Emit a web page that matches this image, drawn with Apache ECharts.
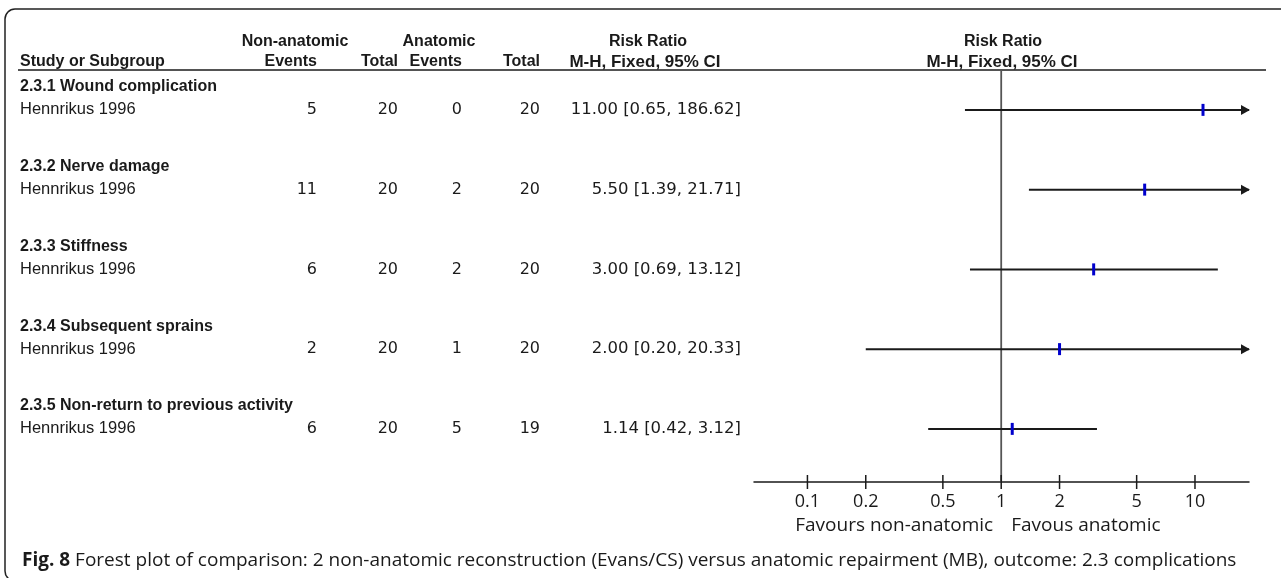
<!DOCTYPE html>
<html><head><meta charset="utf-8">
<script src="https://cdn.jsdelivr.net/npm/echarts@6/dist/echarts.min.js"></script>
<style>html,body{margin:0;padding:0;background:#fff}#c{width:1281px;height:578px}</style>
</head><body><div id="c"></div>
<script>
const subgroups = ['2.3.1 Wound complication', '2.3.2 Nerve damage', '2.3.3 Stiffness', '2.3.4 Subsequent sprains', '2.3.5 Non-return to previous activity'];
const studies = ['Hennrikus 1996', 'Hennrikus 1996', 'Hennrikus 1996', 'Hennrikus 1996', 'Hennrikus 1996'];
const eventsNon = [5, 11, 6, 2, 6];
const totalNon = [20, 20, 20, 20, 20];
const eventsAna = [0, 2, 2, 1, 5];
const totalAna = [20, 20, 20, 20, 19];
const riskRatio = [11.00, 5.50, 3.00, 2.00, 1.14];
const ciLower = [0.65, 1.39, 0.69, 0.20, 0.42];
const ciUpper = [186.62, 21.71, 13.12, 20.33, 3.12];
const tickValues = [0.1, 0.2, 0.5, 1, 2, 5, 10];
const tickLabels = ['0.1', '0.2', '0.5', '1', '2', '5', '10'];
const xMin = 0.053, xMax = 19;
const favourLeft = 'Favours non-anatomic';
const favourRight = 'Favous anatomic';
const headerGroups = ['Non-anatomic', 'Anatomic', 'Risk Ratio'];
const headerCols = ['Study or Subgroup', 'Events', 'Total', 'Events', 'Total', 'M-H, Fixed, 95% CI'];
const plotHeader = ['Risk Ratio', 'M-H, Fixed, 95% CI'];
const captionBold = 'Fig. 8';
const captionText = ' Forest plot of comparison: 2 non-anatomic reconstruction (Evans/CS) versus anatomic repairment (MB), outcome: 2.3 complications';

const yMax = 5.166;
const INK = '#1a1a1a';
const TFONT = '"Liberation Sans", Arial, sans-serif';
const NFONT = '"DejaVu Sans", sans-serif';
const PFONT = '"Open Sans", "Noto Sans", sans-serif';
const colX = {study: 20, ev1: 317, tot1: 398, ev2: 462, tot2: 540, rr: 741};

const chart = echarts.init(document.getElementById('c'), null, {renderer: 'canvas'});

function txt(text, x, y, align, bold, size, font) {
  return {type: 'text', style: {text: text, x: x, y: y, align: align, verticalAlign: 'middle',
    fontSize: size || 15, fontWeight: bold ? 'bold' : 'normal', fontFamily: font || TFONT, fill: INK}};
}
function fmt(v) { return v.toFixed(2); }

const tableData = studies.map((s, i) => [xMin, i + 0.5, i]);
const forestData = studies.map((s, i) => [ciLower[i], ciUpper[i], riskRatio[i], i + 0.5]);
const tickData = tickValues.map((v, i) => [v, yMax, i]);

chart.setOption({
  animation: false,
  grid: {left: 754, right: 32, top: 70, bottom: 96},
  xAxis: {type: 'log', logBase: 10, min: xMin, max: xMax,
    axisLine: {show: true, onZero: false, lineStyle: {color: INK, width: 1.5}},
    axisTick: {show: false}, axisLabel: {show: false}, splitLine: {show: false}},
  yAxis: {type: 'value', min: 0, max: yMax, inverse: true, show: false, splitLine: {show: false}},
  graphic: [
    {type: 'rect', shape: {x: 5, y: 9, width: 1400, height: 572, r: 10}, style: {fill: 'none', stroke: '#222', lineWidth: 1.5}},
    {type: 'line', shape: {x1: 18, y1: 70, x2: 1266, y2: 70}, style: {stroke: INK, lineWidth: 1.5}},
    txt(headerGroups[0], 295, 42, 'center', true, 16),
    txt(headerGroups[1], 439, 42, 'center', true, 16),
    txt(headerGroups[2], 648, 42, 'center', true, 16),
    txt(headerCols[0], colX.study, 62, 'left', true, 16),
    txt(headerCols[1], colX.ev1, 62, 'right', true, 16),
    txt(headerCols[2], colX.tot1, 62, 'right', true, 16),
    txt(headerCols[3], colX.ev2, 62, 'right', true, 16),
    txt(headerCols[4], colX.tot2, 62, 'right', true, 16),
    txt(headerCols[5], 645, 62, 'center', true, 17),
    txt(plotHeader[0], 1003, 42, 'center', true, 16),
    txt(plotHeader[1], 1002, 62, 'center', true, 17),
    {type: 'text', style: {text: '{b|' + captionBold + '}' + captionText, x: 22, y: 561, verticalAlign: 'middle',
      fontSize: 19, fontFamily: PFONT, fill: INK,
      rich: {b: {fontWeight: 'bold', fontSize: 19, fontFamily: PFONT, fill: INK}}}}
  ],
  series: [
    {type: 'custom', name: 'table', clip: false, data: tableData, encode: {x: 0, y: 1},
      renderItem: function (params, api) {
        const i = api.value(2);
        const y = api.coord([xMin, api.value(1)])[1];
        return {type: 'group', children: [
          txt(subgroups[i], colX.study, y - 23, 'left', true, 16),
          txt(studies[i], colX.study, y, 'left', false, 16.5),
          txt(String(eventsNon[i]), colX.ev1, y, 'right', false, 16, NFONT),
          txt(String(totalNon[i]), colX.tot1, y, 'right', false, 16, NFONT),
          txt(String(eventsAna[i]), colX.ev2, y, 'right', false, 16, NFONT),
          txt(String(totalAna[i]), colX.tot2, y, 'right', false, 16, NFONT),
          txt(fmt(riskRatio[i]) + ' [' + fmt(ciLower[i]) + ', ' + fmt(ciUpper[i]) + ']', colX.rr, y, 'right', false, 16.5, NFONT)
        ]};
      }},
    {type: 'custom', name: 'ref', clip: false, data: [[1, yMax]], encode: {x: 0, y: 1},
      renderItem: function (params, api) {
        const top = api.coord([api.value(0), 0]);
        const bot = api.coord([api.value(0), api.value(1)]);
        return {type: 'group', children: [
          {type: 'line', shape: {x1: top[0], y1: top[1], x2: bot[0], y2: bot[1]}, style: {stroke: '#555', lineWidth: 1.8}},
          txt(favourLeft, bot[0] - 8, bot[1] + 44, 'right', false, 19, PFONT),
          txt(favourRight, bot[0] + 10, bot[1] + 44, 'left', false, 19, PFONT)
        ]};
      }},
    {type: 'custom', name: 'ticks', clip: false, data: tickData, encode: {x: 0, y: 1},
      renderItem: function (params, api) {
        const p = api.coord([api.value(0), api.value(1)]);
        return {type: 'group', children: [
          {type: 'line', shape: {x1: p[0], y1: p[1] - 7, x2: p[0], y2: p[1] + 7}, style: {stroke: INK, lineWidth: 1.5}},
          txt(tickLabels[api.value(2)], p[0], p[1] + 20, 'center', false, 18, PFONT)
        ]};
      }},
    {type: 'custom', name: 'forest', clip: false, data: forestData, encode: {x: [0, 1, 2], y: 3},
      renderItem: function (params, api) {
        const lo = api.value(0), hi = api.value(1), est = api.value(2), yv = api.value(3);
        const a = api.coord([Math.max(lo, xMin), yv]);
        const b = api.coord([Math.min(hi, xMax), yv]);
        const e = api.coord([est, yv]);
        const ch = [
          {type: 'line', shape: {x1: a[0], y1: a[1], x2: b[0], y2: b[1]}, style: {stroke: INK, lineWidth: 2}},
          {type: 'rect', shape: {x: e[0] - 1.5, y: e[1] - 6, width: 3, height: 12}, style: {fill: '#0000cc'}}
        ];
        if (hi > xMax) ch.push({type: 'polygon', shape: {points: [[b[0] - 8, b[1] - 5], [b[0] + 1, b[1]], [b[0] - 8, b[1] + 5]]}, style: {fill: INK}});
        if (lo < xMin) ch.push({type: 'polygon', shape: {points: [[a[0] + 8, a[1] - 5], [a[0] - 1, a[1]], [a[0] + 8, a[1] + 5]]}, style: {fill: INK}});
        return {type: 'group', children: ch};
      }}
  ]
});
</script></body></html>
